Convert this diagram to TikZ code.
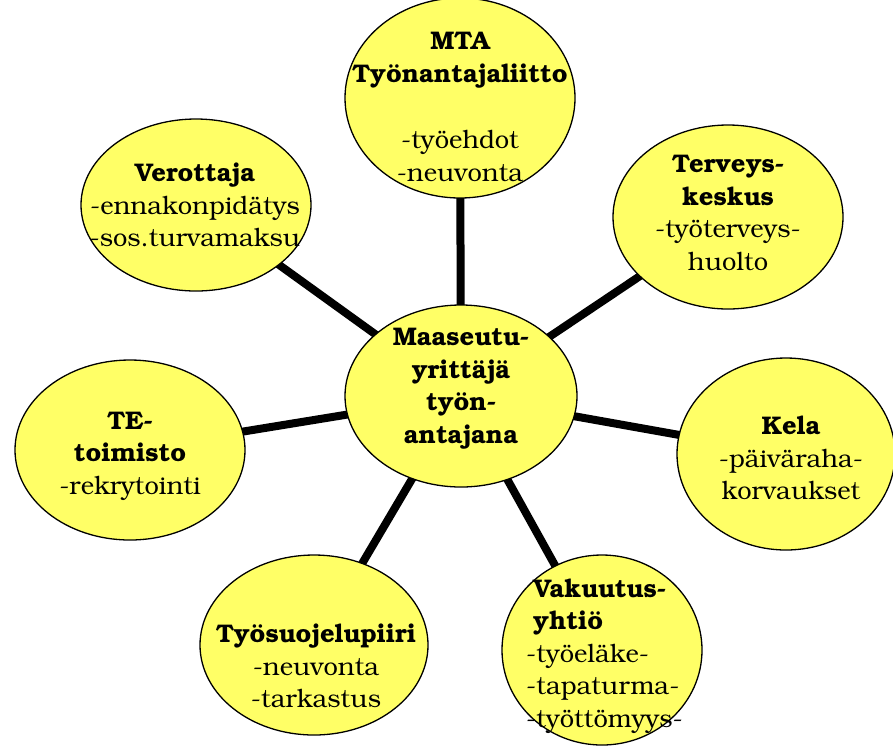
\documentclass[tikz,border=0pt]{standalone}
\usepackage[T1]{fontenc}
\usepackage{bookman}
\usetikzlibrary{shapes.geometric,backgrounds}
\definecolor{bubble}{RGB}{255,255,102}
\tikzset{
  bubble/.style={ellipse, draw=black, line width=1.3pt, fill=bubble, inner sep=0pt},
  txt/.style={align=center, inner sep=0pt, font=\fontsize{25.5}{32.5}\selectfont},
  link/.style={line width=8pt, black},
}
\begin{document}
\begin{tikzpicture}[x=1pt,y=-1pt]
\useasboundingbox (0,0) rectangle (893,748);
% ellipses
\node[bubble, minimum width=232pt, minimum height=182pt] (c) at (461,396) {};
\node[bubble, minimum width=230pt, minimum height=200pt] (mta) at (460,98) {};
\node[bubble, minimum width=230pt, minimum height=172pt] (vero) at (196,205) {};
\node[bubble, minimum width=230pt, minimum height=184pt] (terv) at (728,217) {};
\node[bubble, minimum width=230pt, minimum height=180pt] (te) at (130,450) {};
\node[bubble, minimum width=218pt, minimum height=192pt] (kela) at (786,454) {};
\node[bubble, minimum width=228pt, minimum height=180pt] (tsp) at (314,645) {};
\node[bubble, minimum width=200pt, minimum height=190pt] (vak) at (602,650) {};
% connectors
\begin{scope}[on background layer]
\fill[white] (0,0) rectangle (893,748);
\draw[link] (c.center) -- (mta.center);
\draw[link] (c.center) -- (vero.center);
\draw[link] (c.center) -- (terv.center);
\draw[link] (c.center) -- (te.center);
\draw[link] (c.center) -- (kela.center);
\draw[link] (c.center) -- (tsp.center);
\draw[link] (c.center) -- (vak.center);
\end{scope}
% texts
\node[txt] (ct) at (461,389) {\textbf{Maaseutu-}\\\textbf{yrittäjä}\\\textbf{työn-}\\\textbf{antajana}};
\node[txt] (mtat) at (460,107) {\textbf{MTA}\\\textbf{Työnantajaliitto}\\[34pt]-työehdot\\-neuvonta};
\node[txt] (verot) at (195,205) {\textbf{Verottaja}\\-ennakonpidätys\\-sos.turvamaksu};
\node[txt] (tervt) at (728,213) {\textbf{Terveys-}\\\textbf{keskus}\\-työterveys-\\huolto};
\node[txt] (tet) at (130,456) {\textbf{TE-}\\\textbf{toimisto}\\-rekrytointi};
\node[txt] (kelat) at (791,458) {\textbf{Kela}\\-päiväraha-\\korvaukset};
\node[txt] (tspt) at (316,666) {\textbf{Työsuojelupiiri}\\-neuvonta\\-tarkastus};
\node[txt, align=left, anchor=west] (vakt) at (526,656) {\hspace{7pt}\textbf{Vakuutus-}\\\hspace{7pt}\textbf{yhtiö}\\-työeläke-\\-tapaturma-\\-työttömyys-};
\end{tikzpicture}
\end{document}
